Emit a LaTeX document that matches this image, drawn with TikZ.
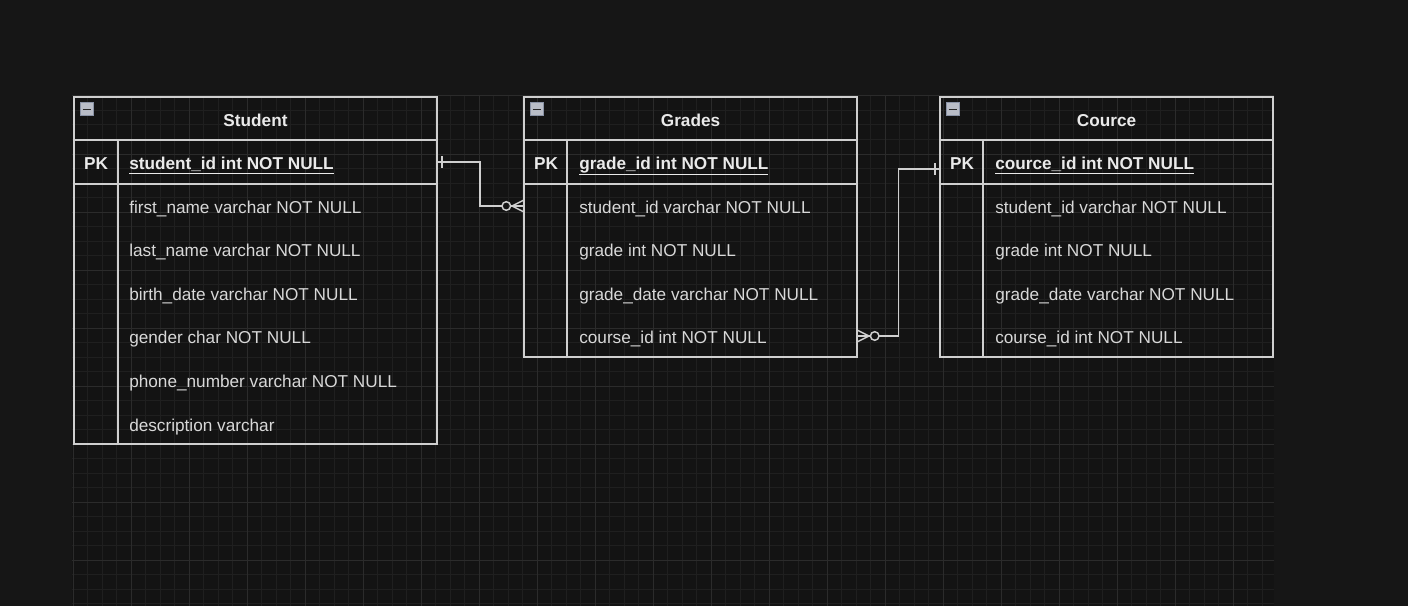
\documentclass[tikz,border=0pt]{standalone}
\usepackage{fontspec}
\setmainfont{Liberation Sans}
\usepackage{xcolor}
\usetikzlibrary{positioning,calc}

\definecolor{bgout}{HTML}{161616}
\definecolor{gridbg}{HTML}{131313}
\definecolor{gridminor}{HTML}{1F1F1F}
\definecolor{gridmajor}{HTML}{2B2B2B}
\definecolor{framegrey}{HTML}{CFCFCF}
\definecolor{txtbold}{HTML}{EAEAEA}
\definecolor{txtplain}{HTML}{D8D8D8}
\definecolor{iconfill}{HTML}{B9BDC7}
\definecolor{iconedge}{HTML}{8A93A6}

\begin{document}
\begin{tikzpicture}[x=0.75pt,y=-0.75pt,
    tabframe/.style={draw=framegrey, line width=1.5pt},
    tabrule/.style={draw=framegrey, line width=1.5pt},
    link/.style={draw=framegrey, line width=1.1pt},
    titletext/.style={font=\fontsize{12.9}{15}\selectfont\bfseries, text=txtbold, anchor=base, inner sep=0},
    pktext/.style={font=\fontsize{12.9}{15}\selectfont\bfseries, text=txtbold, anchor=base, inner sep=0},
    keytext/.style={font=\fontsize{12.9}{15}\selectfont\bfseries, text=txtbold, anchor=base west, inner sep=0},
    fieldtext/.style={font=\fontsize{12.9}{15}\selectfont, text=txtplain, anchor=base west, inner sep=0},
    minicon/.style={fill=iconfill, draw=iconedge, line width=0.75pt}]

    % background and canvas grid
    \fill[bgout] (0,0) rectangle (1408,606);
    \useasboundingbox (0,0) rectangle (1408,606);
    \fill[gridbg] (72,95) rectangle (1274,606);
    \foreach \k in {0,...,82} {
        \draw[gridminor, line width=0.75pt] ({73+14.5*\k},95) -- ({73+14.5*\k},606);
    }
    \foreach \k in {0,...,35} {
        \draw[gridminor, line width=0.75pt] (72,{96+14.5*\k}) -- (1274,{96+14.5*\k});
    }
    \foreach \k in {0,...,20} {
        \draw[gridmajor, line width=0.75pt] ({73+58*\k},95) -- ({73+58*\k},606);
    }
    \foreach \k in {0,...,8} {
        \draw[gridmajor, line width=0.75pt] (72,{96+58*\k}) -- (1274,{96+58*\k});
    }

    % Student table
    \draw[tabframe] (74,97) rectangle (437,444);
    \draw[tabrule] (74,140) -- (437,140);
    \draw[tabrule] (74,184) -- (437,184);
    \draw[tabrule] (118,140) -- (118,444);
    \draw[minicon] (80,103) rectangle (93,116);
    \draw[black!85, line width=1.1pt] (82.5,109.5) -- (90.5,109.5);
    \node[titletext] (stuTitle) at (255.5,127) {Student};
    \node[pktext] (stuPK) at (96,169) {PK};
    \node[keytext] (stuKey) at (129,169) {\underline{student\_id int NOT NULL}};
    \foreach \f [count=\i] in {first\_name varchar NOT NULL, last\_name varchar NOT NULL,
        birth\_date varchar NOT NULL, gender char NOT NULL,
        phone\_number varchar NOT NULL, description varchar} {
        \node[fieldtext] (stuF\i) at (129,{169.5+43.6*\i}) {\f};
    }
    \coordinate (stuOut) at (437,162);

    % Grades table
    \draw[tabframe] (524,97) rectangle (857,357);
    \draw[tabrule] (524,140) -- (857,140);
    \draw[tabrule] (524,184) -- (857,184);
    \draw[tabrule] (567,140) -- (567,357);
    \draw[minicon] (530,103) rectangle (543,116);
    \draw[black!85, line width=1.1pt] (532.5,109.5) -- (540.5,109.5);
    \node[titletext] (grdTitle) at (690.5,127) {Grades};
    \node[pktext] (grdPK) at (546,169) {PK};
    \node[keytext] (grdKey) at (579,169) {\underline{grade\_id int NOT NULL}};
    \foreach \f [count=\i] in {student\_id varchar NOT NULL, grade int NOT NULL,
        grade\_date varchar NOT NULL, course\_id int NOT NULL} {
        \node[fieldtext] (grdF\i) at (579,{169.5+43.6*\i}) {\f};
    }
    \coordinate (grdIn) at (524,206);
    \coordinate (grdOut) at (857,336);

    % Cource table
    \draw[tabframe] (940,97) rectangle (1273,357);
    \draw[tabrule] (940,140) -- (1273,140);
    \draw[tabrule] (940,184) -- (1273,184);
    \draw[tabrule] (983,140) -- (983,357);
    \draw[minicon] (946,103) rectangle (959,116);
    \draw[black!85, line width=1.1pt] (948.5,109.5) -- (956.5,109.5);
    \node[titletext] (crsTitle) at (1106.5,127) {Cource};
    \node[pktext] (crsPK) at (962,169) {PK};
    \node[keytext] (crsKey) at (995,169) {\underline{cource\_id int NOT NULL}};
    \foreach \f [count=\i] in {student\_id varchar NOT NULL, grade int NOT NULL,
        grade\_date varchar NOT NULL, course\_id int NOT NULL} {
        \node[fieldtext] (crsF\i) at (995,{169.5+43.6*\i}) {\f};
    }
    \coordinate (crsIn) at (940,169);

    % Student -> Grades (one to zero-or-many)
    \draw[link] (stuOut) -- ++(43,0) |- ($(grdIn)+(-22,0)$);
    \draw[link] ($(stuOut)+(5,-6)$) -- ++(0,12);
    \draw[link] ($(grdIn)+(-17.7,0)$) circle[radius=4.3];
    \draw[link] ($(grdIn)+(-13.4,0)$) -- (grdIn);
    \draw[link] ($(grdIn)+(-12,0)$) -- ($(grdIn)+(0,-6)$);
    \draw[link] ($(grdIn)+(-12,0)$) -- ($(grdIn)+(0,6)$);

    % Grades -> Cource (zero-or-many to one)
    \draw[link] ($(grdOut)+(22,0)$) -- ++(19.7,0) |- (crsIn);
    \draw[link] ($(crsIn)+(-5,-6)$) -- ++(0,12);
    \draw[link] ($(grdOut)+(17.7,0)$) circle[radius=4.3];
    \draw[link] (grdOut) -- ($(grdOut)+(13.4,0)$);
    \draw[link] ($(grdOut)+(12,0)$) -- ($(grdOut)+(0,-6)$);
    \draw[link] ($(grdOut)+(12,0)$) -- ($(grdOut)+(0,6)$);
\end{tikzpicture}
\end{document}
